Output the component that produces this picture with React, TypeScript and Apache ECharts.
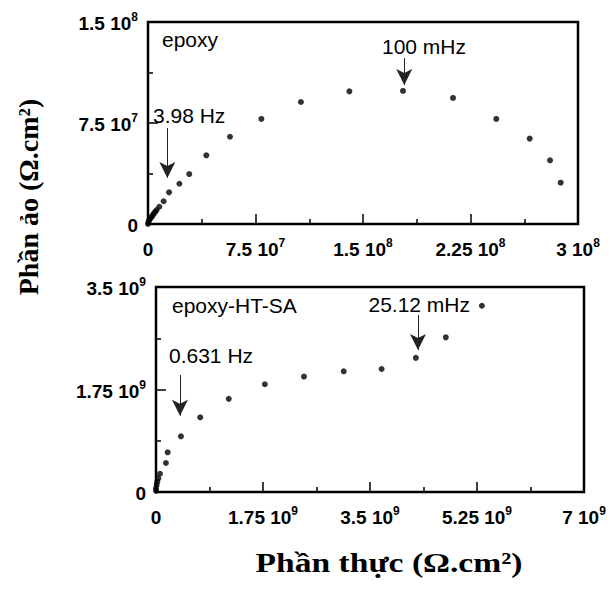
import React, { useEffect, useRef } from "react";
import * as echarts from "echarts";

// ---- Data: epoxy (top panel) [Z' , -Z''] in Ω.cm²
const epoxyReal = [0, 0.3e6, 0.9e6, 1.7e6, 2.6e6, 3.4e6, 4.2e6, 5.1e6, 6.0e6, 7.9e6, 10.9e6, 14.7e6, 21.9e6, 28.8e6, 40.7e6, 57.2e6, 79.1e6, 106.7e6, 140.5e6, 177.9e6, 212.8e6, 243.0e6, 266.3e6, 280.5e6, 287.9e6];
const epoxyImag = [0, 1.5e6, 3.0e6, 4.2e6, 5.4e6, 6.6e6, 7.9e6, 9.1e6, 10.4e6, 12.8e6, 16.9e6, 23.5e6, 29.9e6, 37.1e6, 51.0e6, 64.8e6, 78.0e6, 90.6e6, 98.5e6, 98.8e6, 93.6e6, 78.0e6, 63.4e6, 47.3e6, 30.7e6];

// ---- Data: epoxy-HT-SA (bottom panel)
const htsaReal = [0, 0, 0.011e9, 0.021e9, 0.038e9, 0.065e9, 0.163e9, 0.191e9, 0.408e9, 0.724e9, 1.19e9, 1.78e9, 2.42e9, 3.07e9, 3.69e9, 4.25e9, 4.74e9, 5.33e9];
const htsaImag = [0.02e9, 0.063e9, 0.12e9, 0.176e9, 0.234e9, 0.312e9, 0.495e9, 0.678e9, 0.951e9, 1.275e9, 1.59e9, 1.84e9, 1.97e9, 2.06e9, 2.10e9, 2.29e9, 2.64e9, 3.18e9];

// ---- Tick labels
const topXTicks = [0, 7.5e7, 1.5e8, 2.25e8, 3e8];
const topXLabels = ["0", "7.5 10^7", "1.5 10^8", "2.25 10^8", "3 10^8"];
const topYTicks = [0, 7.5e7, 1.5e8];
const topYLabels = ["0", "7.5 10^7", "1.5 10^8"];
const botXTicks = [0, 1.75e9, 3.5e9, 5.25e9, 7e9];
const botXLabels = ["0", "1.75 10^9", "3.5 10^9", "5.25 10^9", "7 10^9"];
const botYTicks = [0, 1.75e9, 3.5e9];
const botYLabels = ["0", "1.75 10^9", "3.5 10^9"];

// ---- Annotation arrows (data coords: [x, yStart, yEnd])
const topArrows = [
  [1.35e7, 7.13e7, 3.42e7],
  [1.788e8, 1.233e8, 1.032e8],
];
const botArrows = [
  [0.392e9, 1.998e9, 1.303e9],
  [4.285e9, 3.022e9, 2.424e9],
];

const zip = (a: number[], b: number[]) => a.map((v, i) => [v, b[i]]);

const mkFormatter = (ticks: number[], labels: string[]) => (v: number) => {
  const idx = ticks.findIndex((t) => Math.abs(t - v) <= Math.abs(ticks[ticks.length - 1]) * 1e-6);
  if (idx < 0) return "";
  const [main, sup] = labels[idx].split("^");
  return sup ? `{b|${main}}{s|${sup}}` : `{b|${main}}`;
};

const tickFont = "Arial";
const tickRich = {
  b: { fontFamily: tickFont, fontWeight: 700, fontSize: 19, color: "#000", lineHeight: 22, verticalAlign: "bottom" },
  s: { fontFamily: tickFont, fontWeight: 700, fontSize: 12, color: "#000", lineHeight: 12, verticalAlign: "top" },
};

const mkAxis = (gridIndex: number, max: number, interval: number, ticks: number[], labels: string[], margin: number) => ({
  type: "value",
  gridIndex,
  min: 0,
  max,
  interval,
  axisLine: { show: false },
  axisTick: { show: true, inside: true, length: 10, lineStyle: { color: "#000", width: 1.5 } },
  minorTick: { show: true, splitNumber: 2, length: 5, lineStyle: { color: "#000", width: 1.5 } },
  splitLine: { show: false },
  minorSplitLine: { show: false },
  axisLabel: {
    formatter: mkFormatter(ticks, labels),
    fontFamily: tickFont,
    fontWeight: 700,
    fontSize: 19,
    color: "#000",
    rich: tickRich,
    margin,
    showMinLabel: true,
    showMaxLabel: true,
  },
});

const arrowLines = (arr: number[][]) =>
  arr.map(([x, y1, y2]) => [{ coord: [x, y1] }, { coord: [x, y2] }]);

const annoFont = "Liberation Sans";

export default function App() {
  const ref = useRef<HTMLDivElement>(null);
  useEffect(() => {
    if (!ref.current) return;
    const chart = echarts.init(ref.current, undefined, { renderer: "svg" });
    const markLineStyle = {
      silent: true,
      symbol: ["none", "arrow"],
      symbolSize: [12, 16],
      label: { show: false },
      lineStyle: { color: "#222", width: 1, type: "solid" },
      animation: false,
    };
    chart.setOption({
      animation: false,
      backgroundColor: "#fff",
      textStyle: { fontFamily: "Arial" },
      grid: [
        { left: 148, top: 22, width: 430, height: 202, show: true, borderColor: "#000", borderWidth: 2.5, backgroundColor: "transparent" },
        { left: 156, top: 287, width: 428, height: 205, show: true, borderColor: "#000", borderWidth: 2.5, backgroundColor: "transparent" },
      ],
      xAxis: [
        mkAxis(0, 3e8, 7.5e7, topXTicks, topXLabels, 13),
        mkAxis(1, 7e9, 1.75e9, botXTicks, botXLabels, 13),
      ],
      yAxis: [
        mkAxis(0, 1.5e8, 7.5e7, topYTicks, topYLabels, 10),
        mkAxis(1, 3.5e9, 1.75e9, botYTicks, botYLabels, 10),
      ],
      series: [
        {
          name: "epoxy",
          type: "scatter",
          xAxisIndex: 0,
          yAxisIndex: 0,
          data: zip(epoxyReal, epoxyImag),
          symbolSize: 6,
          itemStyle: { color: "#000" },
          clip: false,
          markLine: { ...markLineStyle, data: arrowLines(topArrows) },
        },
        {
          name: "epoxy-HT-SA",
          type: "scatter",
          xAxisIndex: 1,
          yAxisIndex: 1,
          data: zip(htsaReal, htsaImag),
          symbolSize: 6,
          itemStyle: { color: "#000" },
          clip: false,
          markLine: { ...markLineStyle, data: arrowLines(botArrows) },
        },
      ],
      graphic: [
        { type: "text", left: 162, top: 29, style: { text: "epoxy", font: `21px '${annoFont}'`, fill: "#000" } },
        { type: "text", x: 424, y: 46, style: { text: "100 mHz", font: `21px '${annoFont}'`, fill: "#000", textAlign: "center", textVerticalAlign: "middle" } },
        { type: "text", x: 153, y: 115, style: { text: "3.98 Hz", font: `21px '${annoFont}'`, fill: "#000", textAlign: "left", textVerticalAlign: "middle" } },
        { type: "text", x: 172, y: 305, style: { text: "epoxy-HT-SA", font: `21px '${annoFont}'`, fill: "#000", textAlign: "left", textVerticalAlign: "middle" } },
        { type: "text", x: 470, y: 304, style: { text: "25.12 mHz", font: `21px '${annoFont}'`, fill: "#000", textAlign: "right", textVerticalAlign: "middle" } },
        { type: "text", x: 169, y: 355, style: { text: "0.631 Hz", font: `21px '${annoFont}'`, fill: "#000", textAlign: "left", textVerticalAlign: "middle" } },
        {
          type: "text",
          x: 28,
          y: 197,
          rotation: Math.PI / 2,
          style: { text: "Phần ảo (Ω.cm²)", font: "bold 28px 'Liberation Serif'", fill: "#000", textAlign: "center", textVerticalAlign: "middle" },
        },
        {
          type: "text",
          x: 389,
          y: 562,
          scaleX: 1.2,
          style: { text: "Phần thực (Ω.cm²)", font: "bold 28px 'Liberation Serif'", fill: "#000", textAlign: "center", textVerticalAlign: "middle" },
        },
      ],
    });
    return () => chart.dispose();
  }, []);
  return <div ref={ref} style={{ position: "fixed", left: 0, top: 0, width: 610, height: 594, background: "#fff" }} />;
}
